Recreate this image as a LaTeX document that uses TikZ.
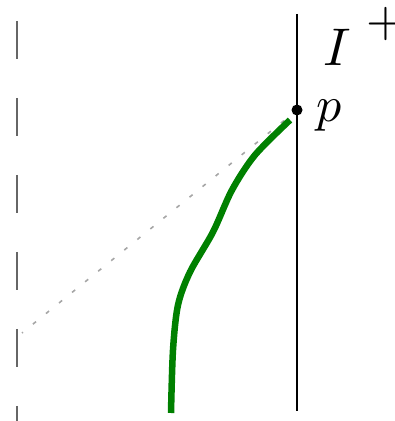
\documentclass[tikz,border=0pt]{standalone}
\usepackage{graphicx}
\begin{document}
\begin{tikzpicture}[x=1pt,y=1pt,
  bigtext/.style={inner sep=0pt},
  scri/.style={line width=2.4pt,black},
  nullray/.style={line width=1.6pt,gray!70,dash pattern=on 4pt off 12.8pt},
  worldline/.style={line width=6.5pt,green!50!black,line cap=butt},
  axisdash/.style={line width=1.6pt,gray!80!black,dash pattern=on 38pt off 39pt}]
\useasboundingbox (0,0) rectangle (395,421);
\clip (0,0) rectangle (395,421);
\coordinate (st) at (297,407);
\coordinate (sb) at (297,10);
\coordinate (p) at (297,311);
\coordinate (r0) at (22,88);
\coordinate (a0) at (17,400);
\coordinate (a1) at (17,0);
\draw[axisdash] (a0) -- (a1);
\draw[scri] (st) -- (sb);
\draw[nullray] (p) -- (r0);
\draw[worldline] plot[smooth,tension=0.5] coordinates {(290,301) (255,266) (232,231) (213,189) (190,149) (178,116) (173,71) (171,8)};
\fill (p) circle (5.5);
\node[bigtext,anchor=base] (I) at (337,355) {\scalebox{5.3}{$I$}};
\node[bigtext] (plus) at (386,397) {\scalebox{5}{$+$}};
\node[bigtext,anchor=base] (plab) at (329,299) {\scalebox{5}{$p$}};
\end{tikzpicture}
\end{document}
